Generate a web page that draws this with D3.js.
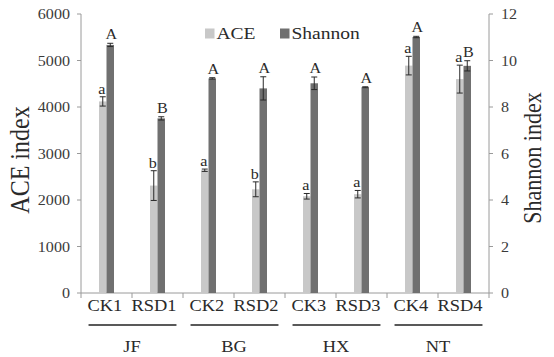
<!DOCTYPE html>
<html>
<head>
<meta charset="utf-8">
<script src="https://cdn.jsdelivr.net/npm/d3@7/dist/d3.min.js"></script>
<style>
  html, body { margin: 0; padding: 0; background: #fff; }
  svg { display: block; }
  text { font-family: "Liberation Serif", "Times New Roman", serif; }
</style>
</head>
<body>
<svg id="chart" width="554" height="357"></svg>
<script>
// ---- data ----
const categories = ["CK1", "RSD1", "CK2", "RSD2", "CK3", "RSD3", "CK4", "RSD4"];
const groups = ["JF", "BG", "HX", "NT"];
const series = ["ACE", "Shannon"];
const aceValues = [4120, 2310, 2640, 2230, 2080, 2125, 4890, 4600];
const aceErrors = [100, 320, 25, 160, 60, 80, 200, 300];
const shannonValues = [10.67, 7.51, 9.23, 8.80, 9.02, 8.85, 11.01, 9.77];
const shannonErrors = [0.07, 0.07, 0.03, 0.50, 0.27, 0.02, 0.03, 0.22];
const aceLetters = ["a", "b", "a", "b", "a", "a", "a", "a"];
const shannonLetters = ["A", "B", "A", "A", "A", "A", "A", "B"];
const aceTicks = [0, 1000, 2000, 3000, 4000, 5000, 6000];
const shannonTicks = [0, 2, 4, 6, 8, 10, 12];

// ---- layout ----
const svg = d3.select("#chart");
const mLeft = 81, mRight = 489, mTop = 14, mBottom = 293;
const SX = 1.15;
const colors = { ACE: "#c8c8c8", Shannon: "#707070" };

const x = d3.scaleBand().domain(categories).range([mLeft, mRight]).padding(0);
const xs = d3.scaleBand().domain(series)
  .range([(x.bandwidth() - 15) / 2, (x.bandwidth() + 15) / 2]).padding(0);
const yL = d3.scaleLinear().domain([0, 6000]).range([mBottom, mTop]);
const yR = d3.scaleLinear().domain([0, 12]).range([mBottom, mTop]);

function txt(g, px, py, str, size, anchor, fill, rot) {
  return g.append("text")
    .attr("transform", `translate(${px},${py}) scale(${SX},1)` + (rot ? ` rotate(${rot})` : ""))
    .attr("font-size", size)
    .attr("text-anchor", anchor)
    .attr("fill", fill)
    .text(str);
}

// ---- axes ----
const axisColor = "#9a9a9a";
const ax = svg.append("g");
ax.append("line").attr("x1", mLeft).attr("x2", mLeft).attr("y1", mTop).attr("y2", mBottom).attr("stroke", axisColor);
ax.append("line").attr("x1", mRight).attr("x2", mRight).attr("y1", mTop).attr("y2", mBottom).attr("stroke", axisColor);
ax.append("line").attr("x1", mLeft).attr("x2", mRight).attr("y1", mBottom).attr("y2", mBottom).attr("stroke", axisColor);

aceTicks.forEach(t => {
  ax.append("line").attr("x1", mLeft - 4).attr("x2", mLeft).attr("y1", yL(t)).attr("y2", yL(t)).attr("stroke", axisColor);
  txt(ax, 70, yL(t) + 5, d3.format("d")(t), 14, "end", "#3a3a3a");
});
shannonTicks.forEach(t => {
  ax.append("line").attr("x1", mRight).attr("x2", mRight + 4).attr("y1", yR(t)).attr("y2", yR(t)).attr("stroke", axisColor);
  txt(ax, 501, yR(t) + 5, String(t), 14, "start", "#3a3a3a");
});
const bounds = categories.map(c => x(c)).concat([mRight]);
bounds.forEach(b => {
  ax.append("line").attr("x1", b).attr("x2", b).attr("y1", mBottom).attr("y2", mBottom + 5).attr("stroke", axisColor);
});

// ---- bars ----
const bars = svg.append("g");
categories.forEach((c, i) => {
  const xa = x(c) + xs("ACE"), xb = x(c) + xs("Shannon"), w = xs.bandwidth();
  bars.append("rect").attr("x", xa).attr("y", yL(aceValues[i])).attr("width", w)
    .attr("height", mBottom - yL(aceValues[i])).attr("fill", colors.ACE);
  bars.append("rect").attr("x", xb).attr("y", yR(shannonValues[i])).attr("width", w)
    .attr("height", mBottom - yR(shannonValues[i])).attr("fill", colors.Shannon);
});

// ---- error bars & letters ----
const err = svg.append("g").attr("stroke", "#2a2a2a").attr("stroke-width", 1);
const lab = svg.append("g");
categories.forEach((c, i) => {
  const w = xs.bandwidth();
  const ca = x(c) + xs("ACE") + w / 2;
  const cb = x(c) + xs("Shannon") + w / 2;
  const e1 = [
    [ca, yL(aceValues[i] + aceErrors[i]), yL(aceValues[i] - aceErrors[i])],
    [cb, yR(shannonValues[i] + shannonErrors[i]), yR(shannonValues[i] - shannonErrors[i])]
  ];
  e1.forEach(([cx, y1, y2]) => {
    err.append("line").attr("x1", cx).attr("x2", cx).attr("y1", y1).attr("y2", y2);
    err.append("line").attr("x1", cx - 3).attr("x2", cx + 3).attr("y1", y1).attr("y2", y1);
    err.append("line").attr("x1", cx - 3).attr("x2", cx + 3).attr("y1", y2).attr("y2", y2);
  });
  txt(lab, ca - 1, e1[0][1] - 3, aceLetters[i], 14, "middle", "#2a2a2a");
  txt(lab, cb + 1, e1[1][1] - 4, shannonLetters[i], 14, "middle", "#2a2a2a");
});

// ---- category & group labels ----
const cl = svg.append("g");
groups.forEach((gname, gi) => {
  const ck = categories[gi * 2], rsd = categories[gi * 2 + 1];
  const gc = x(rsd);
  const t = cl.append("text")
    .attr("transform", `translate(${gc},311) scale(${SX},1)`)
    .attr("font-size", 16).attr("text-anchor", "middle").attr("fill", "#2a2a2a")
    .attr("xml:space", "preserve")
    .text(ck + "  " + rsd);
  const wdt = t.node().getComputedTextLength() * SX;
  cl.append("line").attr("x1", gc - wdt / 2 + 1).attr("x2", gc + wdt / 2)
    .attr("y1", 325).attr("y2", 325).attr("stroke", "#222").attr("stroke-width", 1.5);
  txt(cl, gc, 352, gname, 16, "middle", "#2a2a2a");
});

// ---- axis titles ----
txt(svg, 29, 160, "ACE index", 24, "middle", "#2a2a2a", -90);
txt(svg, 541, 158, "Shannon index", 22, "middle", "#2a2a2a", -90);

// ---- legend ----
const lg = svg.append("g");
const legendX = [205, 280];
series.forEach((s, i) => {
  lg.append("rect").attr("x", legendX[i]).attr("y", 28.5).attr("width", 9.5).attr("height", 10).attr("fill", colors[s]);
  txt(lg, legendX[i] + 11.5, 39, s, 17, "start", "#2a2a2a");
});
</script>
</body>
</html>
